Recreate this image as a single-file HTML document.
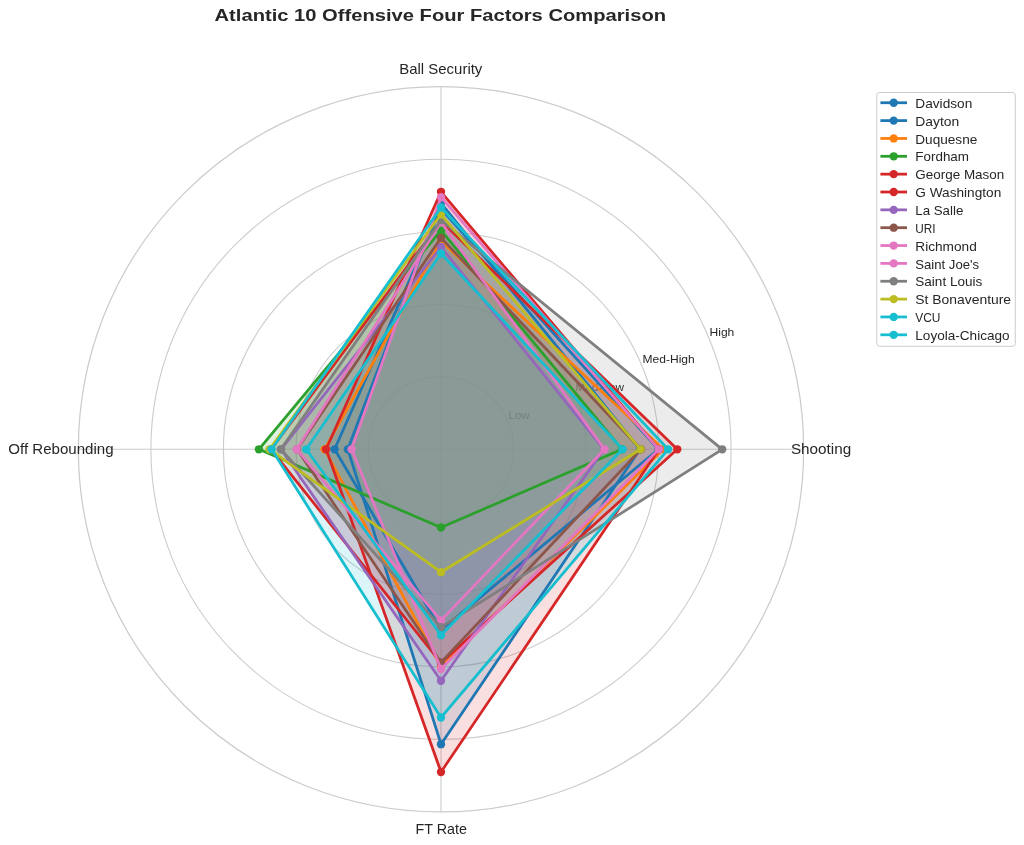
<!DOCTYPE html>
<html><head><meta charset="utf-8"><style>
html,body{margin:0;padding:0;background:#ffffff;}
svg{display:block;}
text{font-family:"Liberation Sans", sans-serif;}
g.t{will-change:transform;}
</style></head><body>
<svg width="1024" height="845" viewBox="0 0 1024 845">
<rect x="0" y="0" width="1024" height="845" fill="#ffffff"/>
<circle cx="441.0" cy="449.3" r="72.53" fill="none" stroke="#cccccc" stroke-width="1.1"/>
<circle cx="441.0" cy="449.3" r="145.06" fill="none" stroke="#cccccc" stroke-width="1.1"/>
<circle cx="441.0" cy="449.3" r="217.59" fill="none" stroke="#cccccc" stroke-width="1.1"/>
<circle cx="441.0" cy="449.3" r="290.12" fill="none" stroke="#cccccc" stroke-width="1.1"/>
<line x1="441.0" y1="449.3" x2="803.65" y2="449.30" stroke="#cccccc" stroke-width="1.1"/>
<line x1="441.0" y1="449.3" x2="441.00" y2="86.65" stroke="#cccccc" stroke-width="1.1"/>
<line x1="441.0" y1="449.3" x2="78.35" y2="449.30" stroke="#cccccc" stroke-width="1.1"/>
<line x1="441.0" y1="449.3" x2="441.00" y2="811.95" stroke="#cccccc" stroke-width="1.1"/>
<circle cx="441.0" cy="449.3" r="362.65" fill="none" stroke="#cccccc" stroke-width="1.25"/>
<g class="t"><text x="508.51" y="418.94" font-size="11.4" fill="#262626" textLength="21.2" lengthAdjust="spacingAndGlyphs">Low</text></g>
<g class="t"><text x="575.52" y="391.19" font-size="11.4" fill="#262626" textLength="48.4" lengthAdjust="spacingAndGlyphs">Med-Low</text></g>
<g class="t"><text x="642.53" y="363.43" font-size="11.4" fill="#262626" textLength="52.2" lengthAdjust="spacingAndGlyphs">Med-High</text></g>
<g class="t"><text x="709.54" y="335.68" font-size="11.4" fill="#262626" textLength="24.8" lengthAdjust="spacingAndGlyphs">High</text></g>
<g class="t"><text x="440.80" y="73.60" font-size="14.2" fill="#262626" text-anchor="middle" font-weight="normal" textLength="83.1" lengthAdjust="spacingAndGlyphs">Ball Security</text></g>
<g class="t"><text x="790.90" y="453.80" font-size="14.2" fill="#262626" text-anchor="start" font-weight="normal" textLength="60.3" lengthAdjust="spacingAndGlyphs">Shooting</text></g>
<g class="t"><text x="8.30" y="453.80" font-size="14.2" fill="#262626" text-anchor="start" font-weight="normal" textLength="105.3" lengthAdjust="spacingAndGlyphs">Off Rebounding</text></g>
<g class="t"><text x="441.30" y="833.90" font-size="14.2" fill="#262626" text-anchor="middle" font-weight="normal" textLength="51.4" lengthAdjust="spacingAndGlyphs">FT Rate</text></g>
<g class="t"><text x="440.30" y="21.20" font-size="17.0" fill="#262626" text-anchor="middle" font-weight="bold" textLength="451.5" lengthAdjust="spacingAndGlyphs">Atlantic 10 Offensive Four Factors Comparison</text></g>
<polygon points="640.00,449.30 441.00,203.00 347.80,449.30 441.00,744.20" fill="#1f77b4" fill-opacity="0.15" stroke="none"/>
<polygon points="658.50,449.30 441.00,209.00 334.60,449.30 441.00,630.00" fill="#1f77b4" fill-opacity="0.15" stroke="none"/>
<polygon points="663.40,449.30 441.00,241.00 324.60,449.30 441.00,667.00" fill="#ff7f0e" fill-opacity="0.15" stroke="none"/>
<polygon points="622.00,449.30 441.00,230.40 258.90,449.30 441.00,527.50" fill="#2ca02c" fill-opacity="0.15" stroke="none"/>
<polygon points="677.30,449.30 441.00,221.00 271.00,449.30 441.00,663.00" fill="#d62728" fill-opacity="0.15" stroke="none"/>
<polygon points="659.00,449.30 441.00,191.80 326.10,449.30 441.00,772.00" fill="#d62728" fill-opacity="0.15" stroke="none"/>
<polygon points="604.00,449.30 441.00,247.00 281.00,449.30 441.00,680.80" fill="#9467bd" fill-opacity="0.15" stroke="none"/>
<polygon points="641.00,449.30 441.00,237.80 297.00,449.30 441.00,662.50" fill="#8c564b" fill-opacity="0.15" stroke="none"/>
<polygon points="604.50,449.30 441.00,222.30 296.70,449.30 441.00,620.40" fill="#e377c2" fill-opacity="0.15" stroke="none"/>
<polygon points="658.90,449.30 441.00,197.20 351.60,449.30 441.00,669.00" fill="#e377c2" fill-opacity="0.15" stroke="none"/>
<polygon points="722.20,449.30 441.00,220.20 280.80,449.30 441.00,627.20" fill="#7f7f7f" fill-opacity="0.15" stroke="none"/>
<polygon points="640.60,449.30 441.00,214.30 269.50,449.30 441.00,572.20" fill="#bcbd22" fill-opacity="0.15" stroke="none"/>
<polygon points="622.60,449.30 441.00,253.50 306.20,449.30 441.00,635.20" fill="#17becf" fill-opacity="0.15" stroke="none"/>
<polygon points="668.10,449.30 441.00,207.50 271.60,449.30 441.00,717.50" fill="#17becf" fill-opacity="0.15" stroke="none"/>
<polyline points="640.00,449.30 441.00,203.00 347.80,449.30 441.00,744.20 640.00,449.30" fill="none" stroke="#1f77b4" stroke-width="2.78" stroke-linejoin="round" stroke-linecap="butt"/>
<circle cx="640.00" cy="449.30" r="4.17" fill="#1f77b4"/>
<circle cx="441.00" cy="203.00" r="4.17" fill="#1f77b4"/>
<circle cx="347.80" cy="449.30" r="4.17" fill="#1f77b4"/>
<circle cx="441.00" cy="744.20" r="4.17" fill="#1f77b4"/>
<polyline points="658.50,449.30 441.00,209.00 334.60,449.30 441.00,630.00 658.50,449.30" fill="none" stroke="#1f77b4" stroke-width="2.78" stroke-linejoin="round" stroke-linecap="butt"/>
<circle cx="658.50" cy="449.30" r="4.17" fill="#1f77b4"/>
<circle cx="441.00" cy="209.00" r="4.17" fill="#1f77b4"/>
<circle cx="334.60" cy="449.30" r="4.17" fill="#1f77b4"/>
<circle cx="441.00" cy="630.00" r="4.17" fill="#1f77b4"/>
<polyline points="663.40,449.30 441.00,241.00 324.60,449.30 441.00,667.00 663.40,449.30" fill="none" stroke="#ff7f0e" stroke-width="2.78" stroke-linejoin="round" stroke-linecap="butt"/>
<circle cx="663.40" cy="449.30" r="4.17" fill="#ff7f0e"/>
<circle cx="441.00" cy="241.00" r="4.17" fill="#ff7f0e"/>
<circle cx="324.60" cy="449.30" r="4.17" fill="#ff7f0e"/>
<circle cx="441.00" cy="667.00" r="4.17" fill="#ff7f0e"/>
<polyline points="622.00,449.30 441.00,230.40 258.90,449.30 441.00,527.50 622.00,449.30" fill="none" stroke="#2ca02c" stroke-width="2.78" stroke-linejoin="round" stroke-linecap="butt"/>
<circle cx="622.00" cy="449.30" r="4.17" fill="#2ca02c"/>
<circle cx="441.00" cy="230.40" r="4.17" fill="#2ca02c"/>
<circle cx="258.90" cy="449.30" r="4.17" fill="#2ca02c"/>
<circle cx="441.00" cy="527.50" r="4.17" fill="#2ca02c"/>
<polyline points="677.30,449.30 441.00,221.00 271.00,449.30 441.00,663.00 677.30,449.30" fill="none" stroke="#d62728" stroke-width="2.78" stroke-linejoin="round" stroke-linecap="butt"/>
<circle cx="677.30" cy="449.30" r="4.17" fill="#d62728"/>
<circle cx="441.00" cy="221.00" r="4.17" fill="#d62728"/>
<circle cx="271.00" cy="449.30" r="4.17" fill="#d62728"/>
<circle cx="441.00" cy="663.00" r="4.17" fill="#d62728"/>
<polyline points="659.00,449.30 441.00,191.80 326.10,449.30 441.00,772.00 659.00,449.30" fill="none" stroke="#d62728" stroke-width="2.78" stroke-linejoin="round" stroke-linecap="butt"/>
<circle cx="659.00" cy="449.30" r="4.17" fill="#d62728"/>
<circle cx="441.00" cy="191.80" r="4.17" fill="#d62728"/>
<circle cx="326.10" cy="449.30" r="4.17" fill="#d62728"/>
<circle cx="441.00" cy="772.00" r="4.17" fill="#d62728"/>
<polyline points="604.00,449.30 441.00,247.00 281.00,449.30 441.00,680.80 604.00,449.30" fill="none" stroke="#9467bd" stroke-width="2.78" stroke-linejoin="round" stroke-linecap="butt"/>
<circle cx="604.00" cy="449.30" r="4.17" fill="#9467bd"/>
<circle cx="441.00" cy="247.00" r="4.17" fill="#9467bd"/>
<circle cx="281.00" cy="449.30" r="4.17" fill="#9467bd"/>
<circle cx="441.00" cy="680.80" r="4.17" fill="#9467bd"/>
<polyline points="641.00,449.30 441.00,237.80 297.00,449.30 441.00,662.50 641.00,449.30" fill="none" stroke="#8c564b" stroke-width="2.78" stroke-linejoin="round" stroke-linecap="butt"/>
<circle cx="641.00" cy="449.30" r="4.17" fill="#8c564b"/>
<circle cx="441.00" cy="237.80" r="4.17" fill="#8c564b"/>
<circle cx="297.00" cy="449.30" r="4.17" fill="#8c564b"/>
<circle cx="441.00" cy="662.50" r="4.17" fill="#8c564b"/>
<polyline points="604.50,449.30 441.00,222.30 296.70,449.30 441.00,620.40 604.50,449.30" fill="none" stroke="#e377c2" stroke-width="2.78" stroke-linejoin="round" stroke-linecap="butt"/>
<circle cx="604.50" cy="449.30" r="4.17" fill="#e377c2"/>
<circle cx="441.00" cy="222.30" r="4.17" fill="#e377c2"/>
<circle cx="296.70" cy="449.30" r="4.17" fill="#e377c2"/>
<circle cx="441.00" cy="620.40" r="4.17" fill="#e377c2"/>
<polyline points="658.90,449.30 441.00,197.20 351.60,449.30 441.00,669.00 658.90,449.30" fill="none" stroke="#e377c2" stroke-width="2.78" stroke-linejoin="round" stroke-linecap="butt"/>
<circle cx="658.90" cy="449.30" r="4.17" fill="#e377c2"/>
<circle cx="441.00" cy="197.20" r="4.17" fill="#e377c2"/>
<circle cx="351.60" cy="449.30" r="4.17" fill="#e377c2"/>
<circle cx="441.00" cy="669.00" r="4.17" fill="#e377c2"/>
<polyline points="722.20,449.30 441.00,220.20 280.80,449.30 441.00,627.20 722.20,449.30" fill="none" stroke="#7f7f7f" stroke-width="2.78" stroke-linejoin="round" stroke-linecap="butt"/>
<circle cx="722.20" cy="449.30" r="4.17" fill="#7f7f7f"/>
<circle cx="441.00" cy="220.20" r="4.17" fill="#7f7f7f"/>
<circle cx="280.80" cy="449.30" r="4.17" fill="#7f7f7f"/>
<circle cx="441.00" cy="627.20" r="4.17" fill="#7f7f7f"/>
<polyline points="640.60,449.30 441.00,214.30 269.50,449.30 441.00,572.20 640.60,449.30" fill="none" stroke="#bcbd22" stroke-width="2.78" stroke-linejoin="round" stroke-linecap="butt"/>
<circle cx="640.60" cy="449.30" r="4.17" fill="#bcbd22"/>
<circle cx="441.00" cy="214.30" r="4.17" fill="#bcbd22"/>
<circle cx="269.50" cy="449.30" r="4.17" fill="#bcbd22"/>
<circle cx="441.00" cy="572.20" r="4.17" fill="#bcbd22"/>
<polyline points="622.60,449.30 441.00,253.50 306.20,449.30 441.00,635.20 622.60,449.30" fill="none" stroke="#17becf" stroke-width="2.78" stroke-linejoin="round" stroke-linecap="butt"/>
<circle cx="622.60" cy="449.30" r="4.17" fill="#17becf"/>
<circle cx="441.00" cy="253.50" r="4.17" fill="#17becf"/>
<circle cx="306.20" cy="449.30" r="4.17" fill="#17becf"/>
<circle cx="441.00" cy="635.20" r="4.17" fill="#17becf"/>
<polyline points="668.10,449.30 441.00,207.50 271.60,449.30 441.00,717.50 668.10,449.30" fill="none" stroke="#17becf" stroke-width="2.78" stroke-linejoin="round" stroke-linecap="butt"/>
<circle cx="668.10" cy="449.30" r="4.17" fill="#17becf"/>
<circle cx="441.00" cy="207.50" r="4.17" fill="#17becf"/>
<circle cx="271.60" cy="449.30" r="4.17" fill="#17becf"/>
<circle cx="441.00" cy="717.50" r="4.17" fill="#17becf"/>
<rect x="876.8" y="92.5" width="138.45" height="253.75" rx="2.5" ry="2.5" fill="#ffffff" fill-opacity="0.8" stroke="#cccccc" stroke-width="1"/>
<line x1="880.4" y1="102.75" x2="907" y2="102.75" stroke="#1f77b4" stroke-width="2.78"/>
<circle cx="893.7" cy="102.75" r="4.17" fill="#1f77b4"/>
<g class="t"><text x="915.30" y="107.85" font-size="12.7" fill="#262626" text-anchor="start" font-weight="normal" textLength="57.0" lengthAdjust="spacingAndGlyphs">Davidson</text></g>
<line x1="880.4" y1="120.60" x2="907" y2="120.60" stroke="#1f77b4" stroke-width="2.78"/>
<circle cx="893.7" cy="120.60" r="4.17" fill="#1f77b4"/>
<g class="t"><text x="915.30" y="125.70" font-size="12.7" fill="#262626" text-anchor="start" font-weight="normal" textLength="43.9" lengthAdjust="spacingAndGlyphs">Dayton</text></g>
<line x1="880.4" y1="138.45" x2="907" y2="138.45" stroke="#ff7f0e" stroke-width="2.78"/>
<circle cx="893.7" cy="138.45" r="4.17" fill="#ff7f0e"/>
<g class="t"><text x="915.30" y="143.55" font-size="12.7" fill="#262626" text-anchor="start" font-weight="normal" textLength="62.0" lengthAdjust="spacingAndGlyphs">Duquesne</text></g>
<line x1="880.4" y1="156.30" x2="907" y2="156.30" stroke="#2ca02c" stroke-width="2.78"/>
<circle cx="893.7" cy="156.30" r="4.17" fill="#2ca02c"/>
<g class="t"><text x="915.30" y="161.40" font-size="12.7" fill="#262626" text-anchor="start" font-weight="normal" textLength="53.7" lengthAdjust="spacingAndGlyphs">Fordham</text></g>
<line x1="880.4" y1="174.15" x2="907" y2="174.15" stroke="#d62728" stroke-width="2.78"/>
<circle cx="893.7" cy="174.15" r="4.17" fill="#d62728"/>
<g class="t"><text x="915.30" y="179.25" font-size="12.7" fill="#262626" text-anchor="start" font-weight="normal" textLength="89.0" lengthAdjust="spacingAndGlyphs">George Mason</text></g>
<line x1="880.4" y1="192.00" x2="907" y2="192.00" stroke="#d62728" stroke-width="2.78"/>
<circle cx="893.7" cy="192.00" r="4.17" fill="#d62728"/>
<g class="t"><text x="915.30" y="197.10" font-size="12.7" fill="#262626" text-anchor="start" font-weight="normal" textLength="86.0" lengthAdjust="spacingAndGlyphs">G Washington</text></g>
<line x1="880.4" y1="209.85" x2="907" y2="209.85" stroke="#9467bd" stroke-width="2.78"/>
<circle cx="893.7" cy="209.85" r="4.17" fill="#9467bd"/>
<g class="t"><text x="915.30" y="214.95" font-size="12.7" fill="#262626" text-anchor="start" font-weight="normal" textLength="48.0" lengthAdjust="spacingAndGlyphs">La Salle</text></g>
<line x1="880.4" y1="227.70" x2="907" y2="227.70" stroke="#8c564b" stroke-width="2.78"/>
<circle cx="893.7" cy="227.70" r="4.17" fill="#8c564b"/>
<g class="t"><text x="915.30" y="232.80" font-size="12.7" fill="#262626" text-anchor="start" font-weight="normal" textLength="20.3" lengthAdjust="spacingAndGlyphs">URI</text></g>
<line x1="880.4" y1="245.55" x2="907" y2="245.55" stroke="#e377c2" stroke-width="2.78"/>
<circle cx="893.7" cy="245.55" r="4.17" fill="#e377c2"/>
<g class="t"><text x="915.30" y="250.65" font-size="12.7" fill="#262626" text-anchor="start" font-weight="normal" textLength="61.5" lengthAdjust="spacingAndGlyphs">Richmond</text></g>
<line x1="880.4" y1="263.40" x2="907" y2="263.40" stroke="#e377c2" stroke-width="2.78"/>
<circle cx="893.7" cy="263.40" r="4.17" fill="#e377c2"/>
<g class="t"><text x="915.30" y="268.50" font-size="12.7" fill="#262626" text-anchor="start" font-weight="normal" textLength="63.8" lengthAdjust="spacingAndGlyphs">Saint Joe&#39;s</text></g>
<line x1="880.4" y1="281.25" x2="907" y2="281.25" stroke="#7f7f7f" stroke-width="2.78"/>
<circle cx="893.7" cy="281.25" r="4.17" fill="#7f7f7f"/>
<g class="t"><text x="915.30" y="286.35" font-size="12.7" fill="#262626" text-anchor="start" font-weight="normal" textLength="67.0" lengthAdjust="spacingAndGlyphs">Saint Louis</text></g>
<line x1="880.4" y1="299.10" x2="907" y2="299.10" stroke="#bcbd22" stroke-width="2.78"/>
<circle cx="893.7" cy="299.10" r="4.17" fill="#bcbd22"/>
<g class="t"><text x="915.30" y="304.20" font-size="12.7" fill="#262626" text-anchor="start" font-weight="normal" textLength="95.8" lengthAdjust="spacingAndGlyphs">St Bonaventure</text></g>
<line x1="880.4" y1="316.95" x2="907" y2="316.95" stroke="#17becf" stroke-width="2.78"/>
<circle cx="893.7" cy="316.95" r="4.17" fill="#17becf"/>
<g class="t"><text x="915.30" y="322.05" font-size="12.7" fill="#262626" text-anchor="start" font-weight="normal" textLength="25.2" lengthAdjust="spacingAndGlyphs">VCU</text></g>
<line x1="880.4" y1="334.80" x2="907" y2="334.80" stroke="#17becf" stroke-width="2.78"/>
<circle cx="893.7" cy="334.80" r="4.17" fill="#17becf"/>
<g class="t"><text x="915.30" y="339.90" font-size="12.7" fill="#262626" text-anchor="start" font-weight="normal" textLength="94.3" lengthAdjust="spacingAndGlyphs">Loyola-Chicago</text></g>
</svg></body></html>
